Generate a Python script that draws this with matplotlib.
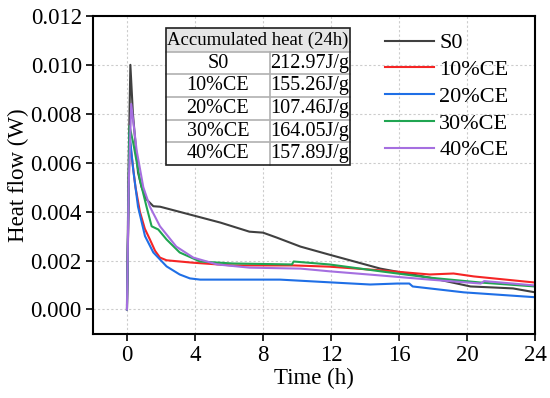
import matplotlib
matplotlib.use("Agg")
import matplotlib.pyplot as plt
from matplotlib.patches import Rectangle

plt.rcParams["font.family"] = ["Liberation Serif", "DejaVu Serif"]
plt.rcParams["mathtext.fontset"] = "stix"

# Heat flow curves (time in h, heat flow in W)
t_s0 = [0.0, 0.1, 0.2, 0.35, 0.65, 0.86, 1.15, 1.55, 1.95, 2.5, 3.7, 5.5, 7.2, 8.0, 8.8, 10.2, 11.9, 14.9, 17.8, 20.2, 21.5, 22.7, 24.0]
y_s0 = [0.0002, 0.0060, 0.0100, 0.0080, 0.0056, 0.0050, 0.0045, 0.00422, 0.0042, 0.0041, 0.00388, 0.00355, 0.00318, 0.00314, 0.00294, 0.00257, 0.00224, 0.00167, 0.0013, 0.00094, 0.0009, 0.00086, 0.0007]

t_10 = [0.0, 0.15, 0.27, 0.5, 0.76, 1.05, 1.35, 1.65, 1.94, 2.33, 3.9, 6.2, 9.0, 9.8, 11.9, 14.9, 17.8, 19.2, 19.6, 20.4, 24.0]
y_10 = [0.0, 0.0070, 0.0063, 0.0050, 0.0040, 0.0033, 0.00286, 0.0024, 0.00212, 0.00201, 0.00191, 0.0018, 0.0018, 0.0018, 0.00175, 0.0016, 0.00143, 0.00147, 0.00143, 0.00135, 0.0011]

t_20 = [0.0, 0.15, 0.37, 0.65, 1.06, 1.55, 2.33, 3.1, 3.7, 4.3, 9.0, 11.9, 14.3, 15.9, 16.6, 16.8, 19.8, 24.0]
y_20 = [0.0, 0.0072, 0.0057, 0.0042, 0.0030, 0.00233, 0.00176, 0.00143, 0.00127, 0.00122, 0.00122, 0.00111, 0.00102, 0.00106, 0.00106, 0.00094, 0.0007, 0.0005]

t_30 = [0.0, 0.15, 0.37, 0.76, 1.15, 1.45, 1.84, 2.33, 3.1, 4.3, 6.2, 9.7, 9.8, 11.9, 14.9, 17.8, 20.8, 24.0]
y_30 = [0.0, 0.0075, 0.0068, 0.0053, 0.0042, 0.0034, 0.00327, 0.00286, 0.00233, 0.00196, 0.00188, 0.00184, 0.00196, 0.00184, 0.00156, 0.0013, 0.0011, 0.00094]

t_40 = [0.0, 0.1, 0.25, 0.57, 0.96, 1.35, 1.94, 2.9, 3.9, 5.3, 7.2, 10.2, 11.9, 14.9, 17.8, 20.8, 21.0, 24.0]
y_40 = [0.0, 0.0050, 0.0084, 0.0065, 0.0050, 0.0042, 0.0034, 0.00257, 0.00212, 0.00184, 0.00171, 0.00167, 0.00156, 0.00139, 0.00122, 0.00106, 0.00116, 0.00098]

labels = ["S0", "10%CE", "20%CE", "30%CE", "40%CE"]
colors = ["#404040", "#f52525", "#1f6fe6", "#20a552", "#a56fe0"]
heat_24h = ["212.97J/g", "155.26J/g", "107.46J/g", "164.05J/g", "157.89J/g"]

series = [(t_s0, y_s0), (t_10, y_10), (t_20, y_20), (t_30, y_30), (t_40, y_40)]

fig = plt.figure(figsize=(5.5, 3.98), dpi=100)
ax = fig.add_axes([0.169, 0.161, 0.804, 0.799])

for (t, y), lab, c in zip(series, labels, colors):
    ax.plot(t, y, "-", color=c, lw=1.5, label=lab)

ax.set_xlim(-2, 24)
ax.set_ylim(-0.001, 0.012)
ax.set_xticks([0, 4, 8, 12, 16, 20, 24])
ax.set_yticks([0.000, 0.002, 0.004, 0.006, 0.008, 0.010, 0.012])
ax.set_yticklabels(["%.3f" % v for v in ax.get_yticks()])
ax.grid(True, ls=(0, (2, 2)), color="#cccccc", lw=0.8)
ax.tick_params(direction="out", length=5, width=1.2, labelsize=16.5, top=False, right=False, pad=3)
for s in ax.spines.values():
    s.set_linewidth(1.5)
ax.set_xlabel("Time (h)", fontsize=16.5, labelpad=1)
ax.set_ylabel("Heat flow (W)", fontsize=16.5, labelpad=1)

ax.legend(loc="upper left", bbox_to_anchor=(0.64, 0.975), frameon=False, fontsize=16,
          handlelength=2.2, handletextpad=0.25, labelspacing=0.28, borderaxespad=0.0)

# Table of accumulated heat
x0, x1, x2 = 0.165, 0.400, 0.581
y_top, y_head, y_bot = 0.962, 0.887, 0.531
rh = (y_head - y_bot) / len(labels)
tr = ax.transAxes
ax.add_patch(Rectangle((x0, y_head), x2 - x0, y_top - y_head, transform=tr,
                       facecolor="#e6e6e6", edgecolor="none", zorder=5))
ax.add_patch(Rectangle((x0, y_bot), x2 - x0, y_head - y_bot, transform=tr,
                       facecolor="white", edgecolor="none", zorder=5))
ax.text((x0 + x2) / 2, (y_top + y_head) / 2, "Accumulated heat (24h)", transform=tr,
        ha="center", va="center", fontsize=13.5, zorder=7)
for i, (lab, val) in enumerate(zip(labels, heat_24h)):
    yc = y_head - (i + 0.5) * rh
    ax.text((x0 + x1) / 2, yc, lab, transform=tr, ha="center", va="center", fontsize=14.5, zorder=7)
    ax.text((x1 + x2) / 2, yc, val, transform=tr, ha="center", va="center", fontsize=14.5, zorder=7)
    yl = y_head - i * rh
    ax.plot([x0, x2], [yl, yl], transform=tr, color="#b0b0b0", lw=1.2, zorder=6)
ax.plot([x1, x1], [y_bot, y_head], transform=tr, color="#b0b0b0", lw=1.2, zorder=6)
ax.add_patch(Rectangle((x0, y_bot), x2 - x0, y_top - y_bot, transform=tr,
                       facecolor="none", edgecolor="#202020", lw=1.2, zorder=8))

fig.savefig("out.png", dpi=100)
